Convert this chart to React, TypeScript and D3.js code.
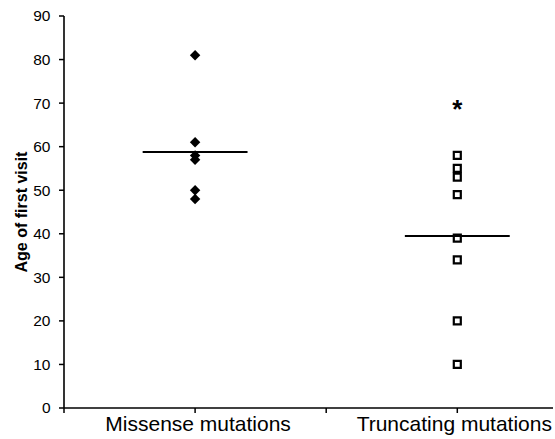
import React from 'react';
import * as d3 from 'd3';

// values
const categories = ['Missense mutations', 'Truncating mutations'];
const categoryPos = [1, 3];
const missense = [81, 61, 58, 57, 50, 48];
const truncating = [58, 55, 53, 49, 39, 34, 20, 10];
const outlier = 69.6; // the asterisk in the truncating group
const means = [58.8, 39.5];
const yTicks = [0, 10, 20, 30, 40, 50, 60, 70, 80, 90];
const xTicks = [0, 1, 2, 3];

const W = 555;
const H = 439;
const FONT = 'Arial, "Liberation Sans", sans-serif';

const App = () => {
  const x = d3.scaleLinear().domain([0, 3.73]).range([64, 553]);
  const y = d3.scaleLinear().domain([0, 90]).range([408, 16]);

  const diamond = d3.symbol().type(d3.symbolSquare).size(55)();
  const square = d3.symbol().type(d3.symbolSquare).size(49)();

  return (
    <svg width={W} height={H} style={{ position: 'absolute', left: 0, top: 0, background: '#fff' }}>
      {/* y axis */}
      <line x1={x(0)} x2={x(0)} y1={y(90)} y2={y(0)} stroke="#000" strokeWidth={1.6} />
      {yTicks.map((t) => (
        <g key={t}>
          <line x1={x(0) - 5} x2={x(0)} y1={y(t)} y2={y(t)} stroke="#000" strokeWidth={1.5} />
          <text x={50.5} y={y(t)} dy="0.35em" textAnchor="end" fontFamily={FONT} fontSize={15.5} fill="#000">
            {t}
          </text>
        </g>
      ))}
      {/* x axis */}
      <line x1={x(0)} x2={553} y1={y(0)} y2={y(0)} stroke="#000" strokeWidth={1.6} />
      {xTicks.map((t) => (
        <line key={t} x1={x(t)} x2={x(t)} y1={y(0)} y2={y(0) + 5} stroke="#000" strokeWidth={1.5} />
      ))}
      {categories.map((c, i) => (
        <text key={c} x={x(categoryPos[i]) + (i === 0 ? 3 : -3)} y={431} textAnchor="middle" fontFamily={FONT} fontSize={21} fill="#000">
          {c}
        </text>
      ))}
      <text
        transform={`translate(27,${y(45)}) rotate(-90)`}
        textAnchor="middle"
        fontFamily={FONT}
        fontSize={16}
        fontWeight="bold"
        fill="#000"
      >
        Age of first visit
      </text>

      {/* missense: filled diamonds */}
      {missense.map((v, i) => (
        <path key={i} d={diamond!} transform={`translate(${x(categoryPos[0])},${y(v)}) rotate(45)`} fill="#000" />
      ))}
      {/* truncating: open squares */}
      {truncating.map((v, i) => (
        <path
          key={i}
          d={square!}
          transform={`translate(${x(categoryPos[1])},${y(v)})`}
          fill="#fff"
          stroke="#000"
          strokeWidth={2.2}
        />
      ))}
      <text
        x={x(categoryPos[1])}
        y={y(outlier) + 0.52 * 26}
        textAnchor="middle"
        fontFamily={FONT}
        fontSize={26}
        fontWeight="bold"
        fill="#000"
      >
        *
      </text>

      {/* group means */}
      {means.map((m, i) => (
        <line
          key={i}
          x1={x(categoryPos[i] - 0.4)}
          x2={x(categoryPos[i] + 0.4)}
          y1={y(m)}
          y2={y(m)}
          stroke="#000"
          strokeWidth={2}
        />
      ))}
    </svg>
  );
};

export default App;
